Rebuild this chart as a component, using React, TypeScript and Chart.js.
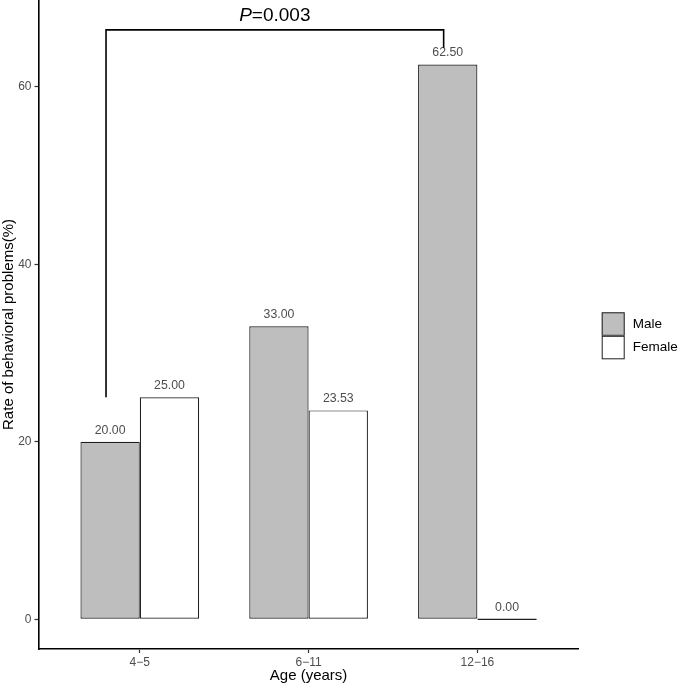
import React, { useEffect, useRef } from "react";
import { Chart, registerables } from "chart.js";

Chart.register(...registerables);

const categories = ["4\u22125", "6\u221211", "12\u221216"];
const maleValues = [20.0, 33.0, 62.5];
const femaleValues = [25.0, 23.53, 0.0];
const seriesNames = ["Male", "Female"];
const yTickValues = [0, 20, 40, 60];
const bracketFrom = 0.8; // x positions (category units)
const bracketTo = 2.8;
const bracketTopValue = 66.4;
const bracketEndValues = [25.0, 64.4];
const pLabelValue = 68.0;
const pText = "=0.003";

const FONT = "'Liberation Sans', Arial, Helvetica, sans-serif";
const MALE_FILL = "#BEBEBE";
const FEMALE_FILL = "#FFFFFF";
const BAR_BORDER = "#1f1f1f";
const GREY_TEXT = "#4d4d4d";

const zeroPad = (s: any) => {
  s.paddingTop = 0;
  s.paddingBottom = 0;
  s.paddingLeft = 0;
  s.paddingRight = 0;
};

const overlayPlugin = {
  id: "overlay",
  afterDatasetsDraw(chart: any) {
    const { ctx, chartArea } = chart;
    const xs = chart.scales.x;
    const ys = chart.scales.y;
    ctx.save();
    // value labels
    ctx.font = `12.3px ${FONT}`;
    ctx.fillStyle = GREY_TEXT;
    ctx.textAlign = "center";
    ctx.textBaseline = "middle";
    chart.data.datasets.forEach((ds: any, di: number) => {
      const meta = chart.getDatasetMeta(di);
      meta.data.forEach((bar: any, i: number) => {
        const v = ds.data[i].y;
        const top = ys.getPixelForValue(v);
        ctx.fillText(v.toFixed(2), bar.x, top - 11.5);
      });
    });
    // bracket
    const xl = xs.getPixelForValue(bracketFrom);
    const xr = xs.getPixelForValue(bracketTo);
    const yt = ys.getPixelForValue(bracketTopValue);
    ctx.strokeStyle = "#000";
    ctx.lineWidth = 1.6;
    ctx.beginPath();
    ctx.moveTo(xl, ys.getPixelForValue(bracketEndValues[0]));
    ctx.lineTo(xl, yt);
    ctx.lineTo(xr, yt);
    ctx.lineTo(xr, ys.getPixelForValue(bracketEndValues[1]));
    ctx.stroke();
    // P label
    const py = ys.getPixelForValue(pLabelValue);
    ctx.fillStyle = "#000";
    ctx.textBaseline = "middle";
    ctx.textAlign = "left";
    ctx.font = `italic 19px ${FONT}`;
    const wP = ctx.measureText("P").width;
    ctx.font = `19px ${FONT}`;
    const wR = ctx.measureText(pText).width;
    const cx = (xl + xr) / 2;
    const start = cx - (wP + wR) / 2;
    ctx.font = `italic 19px ${FONT}`;
    ctx.fillText("P", start, py);
    ctx.font = `19px ${FONT}`;
    ctx.fillText(pText, start + wP, py);
    // legend
    const lx = chartArea.right + 23;
    const boxW = 23;
    const boxH = 23.5;
    const ly = (chartArea.top + chartArea.bottom) / 2 - 12.2;
    const fills = [MALE_FILL, FEMALE_FILL];
    ctx.font = `13.5px ${FONT}`;
    ctx.textAlign = "left";
    seriesNames.forEach((name, i) => {
      const y0 = ly + i * boxH;
      ctx.fillStyle = fills[i];
      ctx.fillRect(lx, y0, boxW, boxH);
      ctx.strokeStyle = BAR_BORDER;
      ctx.lineWidth = 1;
      ctx.strokeRect(lx + 0.5, y0 + 0.5, boxW - 1, boxH - 1);
      ctx.fillStyle = "#000";
      ctx.fillText(name, lx + boxW + 8, y0 + boxH / 2);
    });
    ctx.restore();
  },
};

export default function App() {
  const ref = useRef<HTMLCanvasElement | null>(null);
  useEffect(() => {
    document.body.style.margin = "0";
    const canvas = ref.current;
    if (!canvas) return;
    const chart = new Chart(canvas, {
      type: "bar",
      data: {
        datasets: [
          {
            label: seriesNames[0],
            data: maleValues.map((v, i) => ({ x: i + 1, y: v })),
            backgroundColor: MALE_FILL,
            borderColor: BAR_BORDER,
            borderWidth: 1.2,
            borderSkipped: false,
            categoryPercentage: 0.703,
            barPercentage: 1,
          },
          {
            label: seriesNames[1],
            data: femaleValues.map((v, i) => ({ x: i + 1, y: v })),
            backgroundColor: FEMALE_FILL,
            borderColor: BAR_BORDER,
            borderWidth: 1.2,
            borderSkipped: false,
            minBarLength: 1.5,
            categoryPercentage: 0.703,
            barPercentage: 1,
          },
        ],
      } as any,
      options: {
        animation: false,
        responsive: false,
        devicePixelRatio: 1,
        layout: { padding: { left: 0, right: 106.3, top: 0, bottom: 0 } },
        plugins: { legend: { display: false }, tooltip: { enabled: false } },
        scales: {
          x: {
            type: "linear",
            offset: false,
            min: 0.4,
            max: 3.6,
            afterBuildTicks: (s: any) => {
              s.ticks = categories.map((_, i) => ({ value: i + 1 }));
            },
            afterFit: (s: any) => {
              s.height = 36;
              zeroPad(s);
            },
            ticks: {
              callback: (_v: any, i: number) => categories[i],
              color: GREY_TEXT,
              font: { family: FONT, size: 12 },
              padding: 2,
              autoSkip: false,
              maxRotation: 0,
            },
            grid: {
              offset: false,
              drawOnChartArea: false,
              tickLength: 4,
              tickColor: "#333",
              tickWidth: 1.2,
            },
            border: { display: true, color: "#000", width: 1.6 },
            title: {
              display: true,
              text: "Age (years)",
              color: "#000",
              font: { family: FONT, size: 15 },
              padding: { top: 0, bottom: 0 },
            },
          },
          y: {
            type: "linear",
            min: -3.35,
            max: 69.77,
            afterBuildTicks: (s: any) => {
              s.ticks = yTickValues.map((v) => ({ value: v }));
            },
            afterFit: (s: any) => {
              s.width = 38.5;
              zeroPad(s);
            },
            ticks: {
              color: GREY_TEXT,
              font: { family: FONT, size: 12 },
              padding: 3,
            },
            grid: { drawOnChartArea: false, tickLength: 4, tickColor: "#333", tickWidth: 1.2 },
            border: { display: true, color: "#000", width: 1.6 },
            title: {
              display: true,
              text: "Rate of behavioral problems(%)",
              color: "#000",
              font: { family: FONT, size: 15 },
              padding: { top: 0, bottom: 0 },
            },
          },
        },
      } as any,
      plugins: [overlayPlugin],
    });
    return () => chart.destroy();
  }, []);
  return (
    <canvas
      ref={ref}
      width={685}
      height={685}
      style={{ display: "block", width: 685, height: 685 }}
    />
  );
}
